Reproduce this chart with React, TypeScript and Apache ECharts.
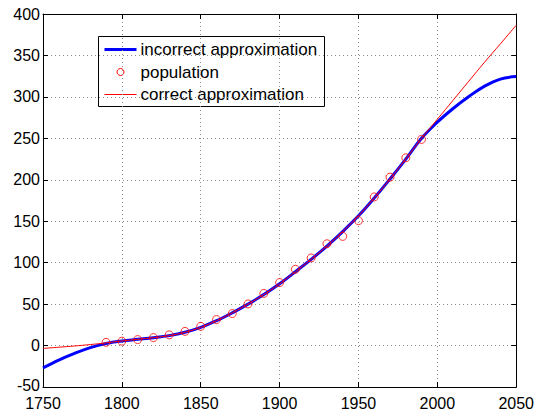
import React, { useEffect, useRef } from "react";
import * as echarts from "echarts";

const censusYears = [1790, 1800, 1810, 1820, 1830, 1840, 1850, 1860, 1870, 1880, 1890, 1900, 1910, 1920, 1930, 1940, 1950, 1960, 1970, 1980, 1990];
const population = [3.9, 5.3, 7.2, 9.6, 12.9, 17.1, 23.2, 31.4, 38.6, 50.2, 62.9, 76.0, 92.0, 105.7, 122.8, 131.7, 150.7, 179.3, 203.2, 226.5, 248.7];

const fitYears = [1750, 1760, 1770, 1780, 1790, 1800, 1810, 1820, 1830, 1840, 1850, 1860, 1870, 1880, 1890, 1900, 1910, 1920, 1930, 1940, 1950, 1960, 1970, 1980, 1990, 2000, 2010, 2020, 2030, 2040, 2050];
const incorrectFit = [-27, -17.5, -9.5, -2.5, 2.5, 5.5, 7.5, 9.5, 12, 16, 22, 30, 39.5, 50, 61.5, 74.5, 89, 104, 120, 137.5, 156.5, 178, 201, 225, 250, 269.5, 286, 300.5, 313, 321.5, 324.5];
const correctFit = [-3.5, -2, -0.5, 1.2, 3.2, 5.5, 7.5, 9.5, 12, 16, 22, 30, 39.5, 50, 61.5, 74.5, 89, 104, 120, 137.5, 156.5, 178, 201, 225, 250, 273, 296, 319, 342, 364, 386.5];

const legendLabels = ["incorrect approximation", "population", "correct approximation"];

const FONT = "'Liberation Sans', Arial, Helvetica, sans-serif";

export default function App() {
  const ref = useRef<HTMLDivElement>(null);
  useEffect(() => {
    document.body.style.margin = "0";
    const chart = echarts.init(ref.current!, null, { renderer: "svg" });
    const gridLine = { show: true, lineStyle: { color: "#8c8c8c", type: [1, 3] as any, width: 1 } };
    const axisLine = { show: true, onZero: false, lineStyle: { color: "#000", width: 1 } };
    const tick = { show: true, inside: true, length: 5, lineStyle: { color: "#000" } };
    chart.setOption({
      animation: false,
      backgroundColor: "#fff",
      textStyle: { fontFamily: FONT },
      grid: { left: 43, right: 18, top: 14, bottom: 23, containLabel: false },
      xAxis: [
        {
          type: "value", min: 1750, max: 2050, interval: 50, position: "bottom",
          axisLine, axisTick: tick, splitLine: gridLine,
          axisLabel: { color: "#000", fontSize: 16, lineHeight: 16, margin: 8, fontFamily: FONT, formatter: (v: number) => String(v) },
        },
        {
          type: "value", min: 1750, max: 2050, interval: 50, position: "top",
          axisLine, axisTick: tick, splitLine: { show: false }, axisLabel: { show: false },
        },
      ],
      yAxis: [
        {
          type: "value", min: -50, max: 400, interval: 50, position: "left",
          axisLine, axisTick: tick, splitLine: gridLine,
          axisLabel: {
            color: "#000", fontSize: 16, lineHeight: 16, margin: 3, fontFamily: FONT,
            formatter: (v: number) => (v === -50 ? `{m|${v}}` : String(v)),
            rich: { m: { fontSize: 16, lineHeight: 16, fontFamily: FONT, color: "#000", padding: [0, 0, 4, 0] } },
          },
        },
        {
          type: "value", min: -50, max: 400, interval: 50, position: "right",
          axisLine, axisTick: tick, splitLine: { show: false }, axisLabel: { show: false },
        },
      ],
      series: [
        {
          name: legendLabels[0], type: "line", smooth: 0.4,
          showSymbol: false, symbol: "none",
          data: fitYears.map((y, i) => [y, incorrectFit[i]]),
          lineStyle: { color: "#0000ff", width: 3 }, z: 2,
        },
        {
          name: legendLabels[1], type: "scatter", symbol: "circle", symbolSize: 8,
          data: censusYears.map((y, i) => [y, population[i]]),
          itemStyle: { color: "rgba(0,0,0,0)", borderColor: "#ff0000", borderWidth: 1 }, z: 3,
        },
        {
          name: legendLabels[2], type: "line", smooth: 0.4,
          showSymbol: false, symbol: "none",
          data: fitYears.map((y, i) => [y, correctFit[i]]),
          lineStyle: { color: "#ff0000", width: 1 }, z: 4,
        },
      ],
      graphic: [
        {
          type: "group", left: 98, top: 36, z: 100,
          children: [
            { type: "rect", shape: { x: 0, y: 0, width: 226, height: 70 }, style: { fill: "#fff", stroke: "#000", lineWidth: 1 } },
            { type: "line", shape: { x1: 6, y1: 13, x2: 38, y2: 13 }, style: { stroke: "#0000ff", lineWidth: 3 } },
            { type: "text", x: 42, y: 13, style: { text: legendLabels[0], fill: "#000", font: `17px ${FONT}`, verticalAlign: "middle" } },
            { type: "circle", shape: { cx: 22, cy: 35.5, r: 3.5 }, style: { fill: "none", stroke: "#ff0000", lineWidth: 1 } },
            { type: "text", x: 42, y: 35.5, style: { text: legendLabels[1], fill: "#000", font: `17px ${FONT}`, verticalAlign: "middle" } },
            { type: "line", shape: { x1: 6, y1: 58, x2: 38, y2: 58 }, style: { stroke: "#ff0000", lineWidth: 1 } },
            { type: "text", x: 42, y: 58, style: { text: legendLabels[2], fill: "#000", font: `17px ${FONT}`, verticalAlign: "middle" } },
          ],
        },
      ],
    });
    return () => chart.dispose();
  }, []);
  return <div ref={ref} style={{ position: "absolute", left: 0, top: 0, width: 537, height: 411 }} />;
}
